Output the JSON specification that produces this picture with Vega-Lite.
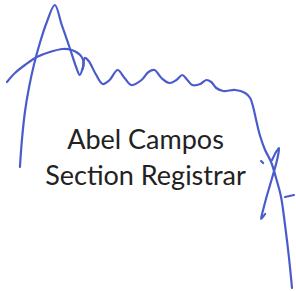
{
  "$schema": "https://vega.github.io/schema/vega-lite/v6.json",
  "width": 296,
  "height": 291,
  "autosize": {"type": "fit", "contains": "padding"},
  "padding": 0,
  "background": "#ffffff",
  "config": {"view": {"stroke": null}},
  "datasets": {
    "strokes": [
      {"s": "a", "i": 1, "x": 20, "y": 167},
      {"s": "a", "i": 2, "x": 22, "y": 140},
      {"s": "a", "i": 3, "x": 25, "y": 112},
      {"s": "a", "i": 4, "x": 29, "y": 88},
      {"s": "a", "i": 5, "x": 34, "y": 65},
      {"s": "a", "i": 6, "x": 40, "y": 43},
      {"s": "a", "i": 7, "x": 47, "y": 22},
      {"s": "a", "i": 8, "x": 55, "y": 5},
      {"s": "a", "i": 9, "x": 62, "y": 25},
      {"s": "a", "i": 10, "x": 70, "y": 48},
      {"s": "a", "i": 11, "x": 76, "y": 66},
      {"s": "a", "i": 12, "x": 80, "y": 75},
      {"s": "a", "i": 13, "x": 83, "y": 68},
      {"s": "a", "i": 14, "x": 85, "y": 58},
      {"s": "a", "i": 15, "x": 89, "y": 61},
      {"s": "a", "i": 16, "x": 96, "y": 74},
      {"s": "a", "i": 17, "x": 103, "y": 84},
      {"s": "a", "i": 18, "x": 110, "y": 80},
      {"s": "a", "i": 19, "x": 118, "y": 70},
      {"s": "a", "i": 20, "x": 125, "y": 78},
      {"s": "a", "i": 21, "x": 132, "y": 85},
      {"s": "a", "i": 22, "x": 142, "y": 80},
      {"s": "a", "i": 23, "x": 149, "y": 72},
      {"s": "a", "i": 24, "x": 155, "y": 70},
      {"s": "a", "i": 25, "x": 162, "y": 78},
      {"s": "a", "i": 26, "x": 170, "y": 83},
      {"s": "a", "i": 27, "x": 177, "y": 80},
      {"s": "a", "i": 28, "x": 183, "y": 75},
      {"s": "a", "i": 29, "x": 188, "y": 80},
      {"s": "a", "i": 30, "x": 193, "y": 85},
      {"s": "a", "i": 31, "x": 201, "y": 84},
      {"s": "a", "i": 32, "x": 207, "y": 80},
      {"s": "a", "i": 33, "x": 212, "y": 82},
      {"s": "a", "i": 34, "x": 217, "y": 88},
      {"s": "a", "i": 35, "x": 224, "y": 91},
      {"s": "a", "i": 36, "x": 236, "y": 90},
      {"s": "a", "i": 37, "x": 246, "y": 93},
      {"s": "a", "i": 38, "x": 251, "y": 98},
      {"s": "a", "i": 39, "x": 254, "y": 107},
      {"s": "a", "i": 40, "x": 257, "y": 120},
      {"s": "a", "i": 41, "x": 261, "y": 136},
      {"s": "a", "i": 42, "x": 266, "y": 150},
      {"s": "a", "i": 43, "x": 272, "y": 162},
      {"s": "a", "i": 44, "x": 277, "y": 178},
      {"s": "a", "i": 45, "x": 282, "y": 197},
      {"s": "a", "i": 46, "x": 286, "y": 225},
      {"s": "a", "i": 47, "x": 290, "y": 258},
      {"s": "a", "i": 48, "x": 293, "y": 288},
      {"s": "b", "i": 1, "x": 7, "y": 82},
      {"s": "b", "i": 2, "x": 15, "y": 73},
      {"s": "b", "i": 3, "x": 25, "y": 65},
      {"s": "b", "i": 4, "x": 37, "y": 57},
      {"s": "b", "i": 5, "x": 50, "y": 52},
      {"s": "b", "i": 6, "x": 63, "y": 49},
      {"s": "b", "i": 7, "x": 72, "y": 50},
      {"s": "b", "i": 8, "x": 78, "y": 53},
      {"s": "b", "i": 9, "x": 82, "y": 57},
      {"s": "b", "i": 10, "x": 84, "y": 63},
      {"s": "b", "i": 11, "x": 83, "y": 69},
      {"s": "c", "i": 1, "x": 273, "y": 160},
      {"s": "c", "i": 2, "x": 277, "y": 152},
      {"s": "c", "i": 3, "x": 280, "y": 148},
      {"s": "c", "i": 4, "x": 278, "y": 160},
      {"s": "c", "i": 5, "x": 273, "y": 178},
      {"s": "c", "i": 6, "x": 268, "y": 195},
      {"s": "c", "i": 7, "x": 264, "y": 210},
      {"s": "c", "i": 8, "x": 262, "y": 219},
      {"s": "c", "i": 9, "x": 266, "y": 214},
      {"s": "d", "i": 1, "x": 286, "y": 197},
      {"s": "d", "i": 2, "x": 295, "y": 195},
      {"s": "e", "i": 1, "x": 262, "y": 161},
      {"s": "e", "i": 2, "x": 264, "y": 163}
    ],
    "labels": [
      {"x": 146, "y": 149, "t": "Abel Campos"},
      {"x": 146, "y": 185, "t": "Section Registrar"}
    ]
  },
  "layer": [
    {
      "data": {"name": "strokes"},
      "mark": {"type": "line", "color": "#4a5ccc", "strokeWidth": 2.2, "interpolate": "catmull-rom", "strokeCap": "round", "strokeJoin": "round", "clip": false},
      "encoding": {
        "x": {"field": "x", "type": "quantitative", "scale": {"domain": [0, 296], "nice": false, "zero": false}, "axis": null},
        "y": {"field": "y", "type": "quantitative", "scale": {"domain": [0, 291], "nice": false, "zero": false, "reverse": true}, "axis": null},
        "detail": {"field": "s"},
        "order": {"field": "i", "type": "quantitative"}
      }
    },
    {
      "data": {"name": "labels"},
      "mark": {"type": "text", "font": "Lato", "fontSize": 27, "color": "#222222", "align": "center", "baseline": "alphabetic"},
      "encoding": {
        "x": {"field": "x", "type": "quantitative"},
        "y": {"field": "y", "type": "quantitative"},
        "text": {"field": "t"}
      }
    }
  ]
}
